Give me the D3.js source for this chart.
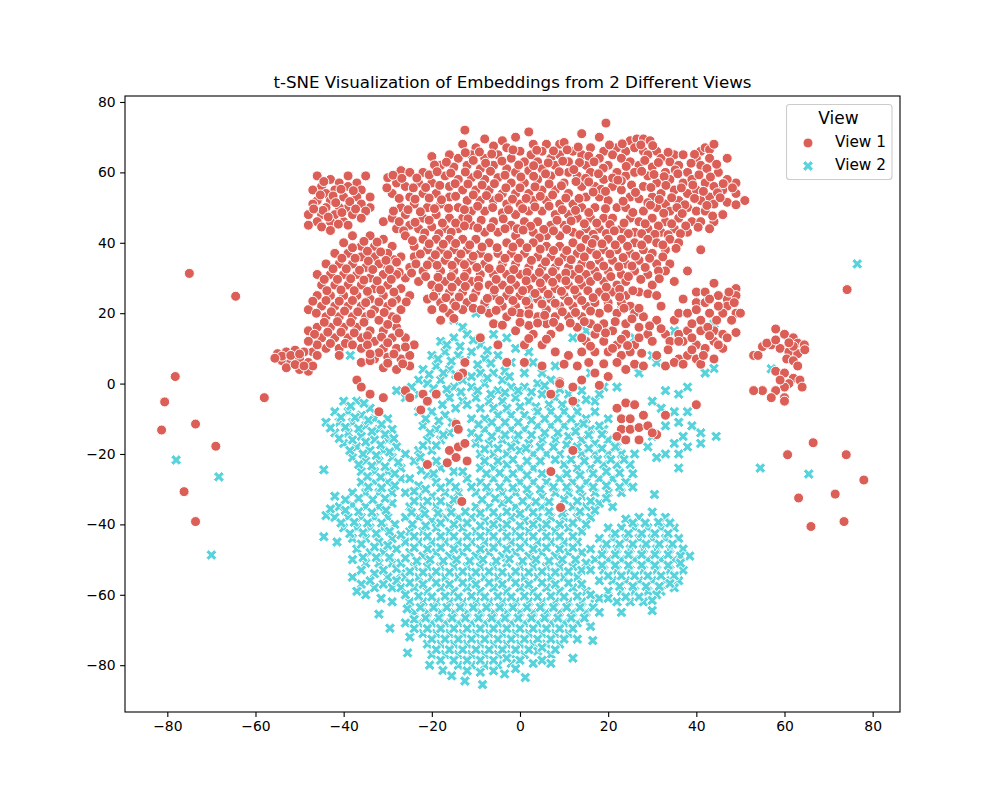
<!DOCTYPE html>
<html>
<head>
<meta charset="utf-8">
<script src="https://cdn.jsdelivr.net/npm/d3@7"></script>
<style>
  body { margin: 0; background: #fff; }
  text { font-family: "DejaVu Sans", sans-serif; fill: #000; }
</style>
</head>
<body>
<svg width="1000" height="800"></svg>
<script>
// Points, [x, y] in t-SNE units
const view1Outliers = [[-75,31.3],[-64.5,24.8],[-58,-4],[-81.3,-13.2],[-80.6,-5.2],[-78.2,2],[-73.6,-11.5],[-69,-17.8],[-76.2,-30.7],[-73.6,-39.2],[74.2,26.7],[60.7,-20.2],[66.5,-16.8],[74,-20.2],[78,-27.4],[71.5,-31.4],[63.2,-32.5],[66,-40.6],[73.5,-39.2],[41,38],[38,32],[54,8]];

const view1UpperLeft = [[-46,59],[-43,58],[-39,59],[-37,57],[-35,59],[-41,57],[-45,56],[-42,55],[-39,56],[-36,55],[-34,53],[-44,54],[-47,55],[-40,53],[-37,53],[-43,52],[-46,52],[-34,50],[-39,50],[-36,51],[-41,50],[-44,50],[-47,51],[-48,48],[-45,48],[-42,48],[-38,48],[-35,49],[-40,46],[-43,46],[-36,47],[-46,46],[-48,45],[-45,44.5],[-43,43.5],[-39,45],[-44.5,57.4],[-40.6,55.2],[-37.8,54.8],[-42.4,53.3],[-45.3,53.6],[-38.6,51.7],[-41.8,51.4],[-44.7,49.2],[-40.4,48.6],[-37.3,49.6],[-43.5,47.3],[-46.8,49.6],[-41.2,45.3]];

const view1Top = [[-12.5,72],[2,71.5],[19.5,74],[14,71],[-8,69.5],[-4,69],[-1,70],[3,68],[6,68],[9,68],[10,68.5],[18,70],[25,69],[26.5,69.5],[28,69.5],[29.5,69],[-13,68],[-10,67],[-6,67.5],[-3,67],[0,66],[2.5,65],[5,66],[7,64],[12,66],[16,67],[19,66],[22,67],[24,66],[26,67],[28,66],[31,66],[35,65],[41,66],[42,67],[43,66.5],[44,68],[-20,64.5],[-16,65],[-14,64],[-11,65],[-8,64],[-5,65],[-2,64],[1,63],[4,63],[9,65],[11,63],[14,65],[18,64],[21,65],[23,64],[25,63],[29,65],[32,64],[34,63],[37,65],[40,64],[43,64],[47,64],[-18,62],[-15,61.5],[-12,62],[-9,61],[-6,62],[-3,61],[-1,60],[2,60.5],[5,61],[8,62],[11,60],[15,62],[20,62],[22,60],[27,62],[30,61.5],[33,60],[36,62],[38,60],[41,62],[45,60],[49,57],[-30,58.5],[-27,60.5],[-25,60],[-22,60],[-17,59],[-14,58],[-11,58.5],[-8,58],[-5,58.5],[-2,57],[1,57],[4,58],[7,59],[10,57],[13,59],[16,60],[19,58],[24,59],[26,60],[29,59],[31,57],[34,58],[37,57],[39,58],[42,57],[44,56],[47,58],[-28,57],[-26,56],[-23,57],[-20,57],[-16,56],[-13,55],[-10,55],[-7,55],[-4,54],[-1,54],[2,54],[5,55],[8,55],[11,54],[14,56],[17,56],[21,56],[23,55],[28,56],[32,54],[35,55],[38,54],[40,55],[43,53],[46,55],[49,54],[51,52],[-29,54],[-25,53],[-22,54],[-19,54],[-16,53],[-12,52],[-9,52],[-6,52],[-3,51],[0,51],[3,52],[6,52],[9,51],[12,51],[15,53],[18,53],[20,52],[25,53],[27,52.5],[30,53],[33,51],[36,52],[41,52],[44,51],[47,51.5],[-27,50],[-24,51],[-21,50],[-18,51],[-14,50],[-11,49],[-8,49],[-4,48.5],[-1,48],[2,49],[5,49],[8,48],[11,48],[14,50],[17,50],[22,50],[24,50],[28,49],[31,50],[34,49],[38,50],[40,49],[42,49],[46,48],[-31,46],[-29,47],[-26,48],[-22,47],[-19,48],[-16,47],[-13,47],[-6,46],[-2,45],[1,46],[4,46],[7,45],[10,45],[13,47],[16,47],[19,47],[21,47],[25,47],[27,46],[30,47],[33,46],[36,47],[39,46],[41,46],[44,46],[-28,44],[-25,45],[-23,44],[-20,44.5],[-17,44],[-14,44],[-11,45],[-8,43],[-5,43],[-1,42],[3,43],[6,42],[9,42],[12,43],[15,44],[18,44],[23,44],[26,43],[29,44],[32,43],[35,44],[38,43],[43,44]];

const view1TopFill = [[-12.4,65.6],[-9.2,65.8],[-6.4,65.2],[-1.6,66.4],[3.8,66.3],[7.6,66.1],[10.7,66.4],[13.2,67.2],[15.6,64.6],[20.3,67.8],[23.2,68.1],[27.4,67.8],[30.1,67.6],[33.6,65.7],[39.6,65.1],[-19.4,62.1],[-16.7,62.9],[-10.6,63.4],[-7.8,62.6],[-4.1,63.2],[-0.3,62.1],[3.1,61.9],[6.4,62.7],[9.7,63.2],[13.5,62.8],[16.8,63],[18.9,61.2],[24.1,61.7],[28.3,63.4],[31.4,62.8],[35.2,60.7],[38.8,62.6],[42.4,61.1],[44.6,62.3],[-28.8,59.2],[-23.4,58.4],[-20.6,59.3],[-18.8,60.2],[-15.7,59.8],[-12.4,60.1],[-9.6,59.4],[-6.7,60.3],[-3.4,59.2],[0.2,58.7],[3.1,58.9],[5.8,59.6],[8.9,60.2],[12.2,60.8],[14.9,58.3],[17.8,59.6],[21,58.4],[23,57.6],[27.6,60.3],[30.4,59.4],[32.7,58.8],[35.8,59.6],[40.6,59.3],[43.2,58.7],[46.1,56.8],[-26.8,58.3],[-24.2,55.6],[-21.4,55.7],[-18.2,56.3],[-14.7,56.8],[-11.8,56.7],[-8.6,56.4],[-5.8,56.8],[-3.2,55.6],[0,55.6],[3.4,55.9],[6.6,56.7],[9.4,56.2],[12.7,57.4],[15.6,57.3],[18.4,55.2],[22.2,57.8],[25.3,56.4],[29.7,55.7],[33.1,56.3],[36.6,55.6],[39.2,56.4],[41.6,54.6],[44.8,54.2],[48.2,55.6],[-30.2,55.6],[-27.4,52.6],[-23.8,52.4],[-20.6,52.7],[-17.8,52.2],[-14.6,53.2],[-10.6,53.6],[-7.6,53.4],[-4.8,52.8],[-1.7,52.4],[1.4,52.6],[4.6,53.2],[7.4,53.6],[10.4,52.7],[13.4,52.6],[16.6,54.4],[19.4,54.6],[23.4,51.8],[26.2,54.3],[29,51.4],[31.6,52.3],[34.4,52.8],[37.4,50.8],[39.6,52.6],[42.4,50.6],[45.4,52.8],[49,50.8],[-28.7,49],[-25.4,49.4],[-22.6,48.8],[-19.4,49.7],[-16.2,49.8],[-12.6,49.4],[-9.6,50.4],[-6.2,50],[-2.6,49.4],[0.6,49.7],[3.4,50.2],[6.6,50.4],[9.6,49.4],[12.6,49.2],[15.6,48.6],[19.4,49.7],[25.6,48.6],[29.6,50.7],[32.6,48.4],[35.6,50],[36.8,48.3],[43.7,47.6],[-27.4,46],[-23.8,45.8],[-20.6,46.4],[-17.6,45.6],[-14.6,45.6],[-11.8,46.8],[-8.8,46.4],[-3.8,46.8],[-0.6,44],[2.4,44.7],[5.4,43.8],[8.4,46.4],[11.6,46.2],[14.6,45.4],[17.4,45.6],[20.4,45.2],[23.6,45.6],[28.4,45.4],[31.4,44.8],[34.4,45.4],[37.6,44.8],[40.4,44.4],[-26.4,43.4],[-21.6,42.8],[-18.4,42.6],[-15.6,43],[-12.6,44.8],[-9.6,44.2],[-6.6,44.3],[-3.4,44],[0.7,43.6],[4.4,41.4],[7.6,43.4],[10.6,43.8],[13.6,42.3],[16.6,42.4],[19.6,42.6],[21.4,43.4],[24.6,42.6],[27.6,42.6],[30.6,42.4],[33.6,42.3],[36.4,42.6]];

const view1Middle = [[-26,42],[-22,41],[-19,41],[-16,41],[-13,41],[-10,41],[-7,40],[-3,40],[0,40],[3,40],[6,39],[9,39],[12,40],[15,41],[17,41],[20,41],[23,41],[26,40],[29,41],[31,40],[34,41],[36,40],[-29,39],[-24,39],[-21,38],[-18,38],[-15,38],[-12,38],[-9,37],[-5,37],[-2,37],[1,37],[4,36],[7,36],[10,36],[13,37],[16,38],[19,38],[22,38],[25,37],[28,38],[30,37],[33,38],[-27,36],[-24,36],[-20,35],[-17,35],[-14,35],[-11,35],[-8,34],[-4,34],[-1,34],[2,33],[5,33],[8,33],[11,33],[14,34],[18,35],[21,35],[24,34],[27,35],[31,34],[34,34],[-30,33],[-25,33],[-22,32],[-18,32],[-15,32],[-12,32],[-9,31],[-6,31],[-3,31],[0,31],[3,30],[6,30],[9,30],[12,31],[15,31],[17,32],[20,32],[23,31],[26,32],[29,31],[33,32],[-26,30],[-23,29],[-20,28],[-17,29],[-14,29],[-11,29],[-7,28],[-4,28],[-1,28],[2,27],[5,27],[8,27],[11,28],[14,28],[16,29],[19,29],[22,28],[24,29],[30,28],[35,29],[-19,26],[-16,26],[-13,26],[-10,26],[-6,25],[-3,25],[0,25],[4,24],[7,24],[10,25],[13,25],[18,26],[21,26],[24,25],[27,26],[29,25.5],[31,25],[-21,24],[-18,23],[-15,23],[-12,23],[-8,23],[-4,22],[-1,22],[2,22],[6,21],[9,22],[12,22],[15,22],[17,23],[20,23],[23,23],[25,22],[32,22],[-20,21],[-16,20],[-13,21],[-7,20],[-3,19],[0,20],[4,19],[8,19],[11,19],[14,19],[18,20],[22,20],[26,20],[28,19],[31,18],[35,18],[-18,18],[-15,18.5],[-6,17],[2,16.5],[6,17],[9,16],[16,17],[19,17],[24,17],[27,16],[29,14],[-1,15],[3,14],[7,14],[13,16],[17,14],[21,15],[24,14],[33,14],[-9,13],[-5,11],[1,11],[5,11],[15,12],[19,12],[22,11],[26,11],[30,12],[34,12],[37,12],[8,9],[11,8],[14,9],[17,9],[20,9],[23,8],[25,9],[31,8],[36,7],[-12.5,6],[-13,3],[-14,2],[-3,6],[1,6],[5,5],[13,5],[22,6],[26,5.5],[28,5],[33,5],[17,3],[20,2],[14,1],[9,0.5],[12,-1],[18,-0.5]];

const view1MiddleFill = [[-24.4,40.6],[-20.6,39.7],[-17.4,39.6],[-14.6,39.8],[-11.4,39.4],[-8.6,38.8],[-5.2,38.6],[-1.6,38.8],[1.6,38.6],[4.6,38.2],[7.6,37.8],[10.6,37.8],[13.8,38.6],[16.4,39.8],[18.6,39.7],[21.6,39.4],[24.4,39],[27.6,39.4],[32.4,39.4],[35.4,38.4],[-22.6,36.8],[-19.2,36.6],[-16.4,36.6],[-13.4,36.8],[-10.6,36.2],[-7.2,35.8],[-3.4,35.6],[-0.4,35.6],[2.6,35],[5.8,34.6],[8.8,34.6],[11.6,35.2],[14.6,36],[17.4,36.6],[20.4,36.8],[23.4,35.8],[26.2,36.2],[29.4,35.6],[32.4,36],[-28.6,35.2],[-23.6,34],[-21,33.7],[-18.8,33.6],[-15.4,33.6],[-12.6,33.8],[-9.8,33],[-7,32.7],[-4.4,32.6],[-1.4,32.4],[1.6,31.6],[4.4,31.6],[7.4,31.8],[10.4,31.4],[13.4,32.6],[16,33.6],[19,33.4],[22.4,33.2],[25.4,33.4],[28.4,33],[31.4,32],[-27.4,31.6],[-24.6,31.4],[-21.4,30.4],[-18.6,30.2],[-15.6,30.4],[-12.6,30.4],[-9.4,29.4],[-5.4,29.6],[-2,29.6],[1.4,29.2],[4.6,28.6],[7.4,28.8],[10.4,29.2],[13.4,29.6],[17.6,30.4],[20.6,30.4],[24.6,30.4],[27.4,29.6],[31.6,29.8],[-18.4,27.2],[-15.4,27.4],[-12.4,27.6],[-9.4,27.6],[-5.8,26.6],[-2.4,26.6],[0.6,26.4],[3.4,25.6],[6.4,25.4],[9.4,26.2],[12.4,26.6],[15.4,26.4],[19.6,27.4],[22.6,26.8],[25.6,26.4],[-19.6,24.8],[-16.8,24.4],[-13.8,24.6],[-10.6,24.4],[-7.4,24.2],[-4.6,23.6],[-1.6,23.6],[1.4,23.4],[5,22.6],[8,22.8],[11,23.4],[14,23.6],[16.6,24.4],[19.4,24.6],[22.6,24.6],[-17.4,21.4],[-14.6,22],[-10.6,21.4],[-8.8,21],[-5.4,20.8],[-1.8,20.4],[2,19.8],[5.6,19.4],[9.6,20.4],[12.6,20.2],[16,20.6],[20,21.4],[23.6,21.4],[27,21.4],[-4,16.6],[0,17.4],[4,17.2],[7.6,17.4],[11.4,17.2],[14.6,17.6],[17.6,15.8],[21.6,17.6],[25.4,18.4],[29.4,16.4],[2,12.8],[6,12.6],[14,13],[19.4,14.4],[23,12.6],[27,13],[32,15.6],[36,14],[16,10.6],[21,10],[24.4,10.8],[27.6,8.6],[33.6,9.6],[10,5.5],[15.6,6],[19,5.6],[24,4],[35,6]];

const view1LowerLeft = [[-34,42],[-31,41],[-38,42],[-40,40],[-36,39],[-33,39],[-30,37],[-42,37],[-39,37],[-36,36],[-33,36],[-28,34.5],[-44,34],[-41,34],[-38,34],[-35,33],[-32,34],[-46,31],[-43,31],[-40,31],[-37,31],[-34,30],[-31,31],[-28,31],[-45,28],[-42,28],[-39,28],[-36,28],[-33,27],[-30,28],[-27,27],[-46,25],[-43,25],[-40,25],[-37,25],[-34,24],[-31,25],[-28,24],[-25,25],[-48,21],[-45,22],[-42,22],[-39,22],[-36,22],[-33,21],[-30,22],[-27,21],[-44,19],[-41,19],[-38,19],[-35,19],[-32,18],[-29,19],[-48,15],[-46,16],[-43,16],[-40,16],[-37,16],[-34,15],[-31,15],[-28,16],[-45,13],[-42,13],[-39,13],[-36,13],[-33,12],[-29,13],[-26,13],[-44,10],[-41,10],[-36,10],[-31,10],[-28,10],[-24,11],[-47,9],[-33,7],[-30,7.5],[-27,7],[-25,8],[-36,6],[-34,6.5],[-31,4.5],[-28,4],[-25,5],[-41,8],[-35.4,40.4],[-32.4,40.2],[-38,38.6],[-34.6,37.6],[-31.6,37.4],[-40.4,35.6],[-37.4,35.6],[-34.4,34.8],[-30.4,35],[-42.4,32.6],[-39.4,32.6],[-36.4,32.2],[-33.4,32.4],[-29.6,32.4],[-44.4,29.6],[-41.4,29.6],[-38.4,29.8],[-35.4,29.4],[-32.4,29.2],[-29.2,29.6],[-43.8,26.4],[-40.6,26.6],[-37.6,26.4],[-34.6,26.2],[-31.6,26.6],[-28.6,26],[-47,23.4],[-44,23.6],[-41,23.4],[-38,23.6],[-35,23],[-32,23.2],[-29,23],[-25.8,23.2],[-46.2,20],[-42.8,20.4],[-39.8,20.6],[-36.8,20.4],[-33.8,19.8],[-30.8,20.2],[-28,18.4],[-44.4,17.4],[-41.4,17.6],[-38.4,17.4],[-35.4,17.4],[-30,16.8],[-46.6,14],[-43.6,14.6],[-40.6,14.6],[-37.6,14.4],[-34.6,13.6],[-31.4,13.2],[-27.4,14.4],[-43,11.4],[-39.6,11.4],[-38,11],[-34.6,11],[-30,11.6],[-26,10.4],[-32,8.8],[-28.6,8.4],[-34,8.4],[-26.6,5.6],[-30,5.8],[-46,11],[-48,12]];

const view1LeftTail = [[-55,8.5],[-53,9],[-51,9.5],[-49,9],[-54,6.5],[-52,6],[-50,7],[-48,6],[-53,4.5],[-50,4],[-48,3.5],[-47,5],[-46,8],[-54,7.8],[-52,8],[-50,8.4],[-51,5.4],[-49,5],[-55.6,7.2]];

const view1Right = [[37,24],[40,26],[42,26],[44,28.5],[47,24],[49,27],[49,25],[40,23],[42,23],[45,25],[47,22],[49,20],[50,20],[36,20],[38,20],[40,21],[43,20],[46,20],[48,18],[41,18],[44,15],[46,14],[47,13],[49,14.5],[38,15],[41,15],[36,12],[40,11],[42,10],[44,12],[46,10],[38,8],[40,7],[37,5.5],[41,5.5],[44,7],[40,-6],[53,8],[55,10.5],[57,11],[58,15.5],[60,14],[62,13],[63,11.5],[64.5,11],[56,11.5],[59,10],[61,9],[63,8.5],[60.5,7],[62,6.5],[63,5],[58,3.5],[60,3],[62,1.5],[61,0],[60,-1],[58,-2],[55,-2],[53,-2],[57,-4],[60,-4],[60,-5],[63.5,1],[64,-1],[59,1],[43,24],[45,22],[47.4,26],[48.6,23],[44.6,18],[39,17],[42.6,16],[39,13],[43,13.6],[45,11],[41.6,8],[39,9.6],[62,10.6],[64.6,9.6],[58,12.4],[61,11.6]];

const view1Lower = [[-37,1],[-36,-1],[-34,-3],[-31,-4],[-32,-8],[-26,-2],[-25,-4],[-22,-3],[-19,-3],[-21,-5],[-22.5,-7.5],[-14.5,-11.5],[-14,-13],[-16,-19],[-14,-18],[-12.5,-17],[-14.5,-21],[-16.5,-22.5],[-21,-23],[-12,-22],[-13.2,-33.5],[7,-25],[12,-19],[9.2,-35.2],[9,0],[7,-3],[12,-5],[22,-7],[24,-5.5],[26,-6],[23,-10],[25,-10],[28,-9],[23,-13],[25,-13],[22,-15],[27,-12.5],[29,-12],[31,-14.5],[24,-16],[27,-16],[33,-9],[30,-14]];

const view2Outliers = [[76.5,34],[54.5,-24],[65.5,-25.7],[-78,-21.7],[-68.3,-26.5],[-70,-48.7],[-38.5,8],[57,4.2],[44,4.3],[44,17],[42,3],[38,-1],[35,15],[36,-3]];

const view2Upper = [[-15,18],[-13,16],[-10,20],[-8,21],[-18,12],[-15,13],[-12,14],[-9,11],[-6,14],[-3,13],[-1,10],[2,9],[-20,8],[-17,9],[-14,8],[-11,9],[-8,7],[-5,8],[-2,6],[1,3],[3,6],[5,3],[8,5],[-22,4],[-19,5],[-16,4],[-13,1],[-9,3],[-6,3],[-4,1],[-23,1],[-21,0],[-18,1],[-15,-1],[-11,-1],[-8,0],[-5,-2],[-2,-1],[1,-1],[4,0],[7,1],[-28,-2],[-26,-4],[-23,-3],[-19,-3],[-16,-4],[-13,-5],[-10,-4],[-7,-5],[-4,-5],[-1,-4],[2,-5],[5,-3],[8,-4],[11,-3],[14,-2],[17,-5],[19,-1],[16,3],[12,13],[15,15],[6,25],[3,24],[22,-1],[27,3],[31,6],[30,8],[26,13],[23,21],[33,-2],[30,-5],[32,-7],[35,-8],[38,-8],[36,-11],[33,-12],[39,-12],[41,-14],[44.5,-15],[37,-15],[35,-17],[38,-18],[41,-17],[36,-20],[33,-20],[36,-24],[30,-15],[29,-18],[31,-21],[26,-20],[17,-8],[20,-10],[22,-18],[19,-13],[-12,-6],[-9,-7],[-16.6,11],[-13.6,10.6],[-10.6,12.4],[-7.4,9.4],[-18.6,7],[-15.6,6.4],[-12.4,6.6],[-9.6,5.4],[-6.6,5.8],[-3.4,3.6],[-20.6,2.6],[-17.4,3],[-14.6,2.6],[-11,2],[-7.4,1.6],[-2.4,2],[-24.6,-1],[-19.6,-1.4],[-16.6,-1.6],[-13.4,-2.4],[-9.6,-2],[-6.6,-3],[-3.4,-2.6],[-0.4,-2],[2.6,-2.4],[5.6,-0.6],[9,-1.6],[-21,-5],[-17.6,-6],[-14.6,-7],[-6,-7],[-3,-7],[0,-6.6],[3.6,-6.6],[6.6,-6],[9.6,-6],[12.6,-5.6],[15,-4.6],[18,-3]];

const view2Left = [[-40,-5],[-37,-5],[-34,-7],[-42,-8],[-39,-8],[-36,-9],[-33,-10],[-30,-10],[-44,-11],[-41,-11],[-38,-11],[-35,-12],[-32,-13],[-29,-13],[-42,-14],[-39,-14],[-36,-15],[-33,-16],[-30,-16],[-40,-17],[-37,-18],[-34,-19],[-31,-19],[-28,-18],[-38,-21],[-35,-22],[-32,-22],[-29,-21],[-26,-20],[-44.5,-24.5],[-36,-25],[-33,-25],[-30,-25],[-27,-24],[-36,-28],[-33,-28],[-30,-28],[-27,-27],[-38,-31],[-35,-31],[-32,-31],[-29,-31],[-42,-32],[-44,-37.5],[-41,-35],[-38,-34.5],[-35,-35],[-32,-35],[-29,-34],[-42,-38],[-39,-38],[-36,-38],[-33,-38],[-30,-38],[-44.5,-43.5],[-40,-41],[-37,-41],[-34,-41],[-31,-41],[-41.5,-45],[-38,-44],[-35,-44],[-32,-45],[-29,-44],[-37,-47],[-34,-48],[-31,-48],[-28,-47],[-38,-50],[-35,-51],[-32,-51],[-29,-51],[-38,-55],[-36,-57],[-33,-54],[-30,-55],[-27,-54],[-37,-59],[-35,-60],[-33,-58],[-29,-58],[-31.5,-61],[-32,-65.5],[-29,-62],[-29.5,-69.5],[-26,-68],[-38.4,-6.4],[-35.4,-5.6],[-40.6,-9.6],[-37.4,-9.6],[-34.4,-10.4],[-31.4,-11.6],[-43,-12.6],[-39.6,-12.4],[-36.6,-12.8],[-33.6,-13.6],[-30.6,-14.4],[-41,-15.6],[-38,-16],[-35,-16.6],[-31.6,-17.4],[-28.6,-15.6],[-38.6,-19],[-35.6,-20],[-32.6,-20.4],[-29.6,-19.4],[-36.6,-23],[-33.6,-23.4],[-30.6,-23.6],[-27.6,-22.4],[-34.6,-26.4],[-31.6,-26.6],[-28.4,-25.6],[-34.4,-29.4],[-31.4,-29.6],[-28.4,-29],[-36.6,-32.6],[-33.4,-33],[-30.6,-32.6],[-39.6,-33],[-43,-35.6],[-39.6,-36],[-36.6,-36.4],[-33.6,-36.6],[-30.4,-36],[-40.6,-39.6],[-37.6,-39.4],[-34.6,-39.6],[-31.4,-39.6],[-28.4,-40],[-38.6,-42.6],[-35.6,-42.4],[-32.6,-42.6],[-29.6,-42],[-36,-45.6],[-33,-46.4],[-30,-46],[-35.6,-49.4],[-32.6,-49.4],[-29.6,-49.4],[-36,-53],[-31,-53],[-28,-52.6],[-34,-56],[-31,-57],[-28,-56]];

const view2Center = [[-23,-8],[-20,-8],[-17,-9],[-11,-10],[-8,-10],[-5,-9],[-2,-9],[1,-9],[4,-8],[7,-8],[10,-8],[13,-8],[15,-10],[-22,-12],[-19,-13],[-16,-14],[-11,-14],[-8,-13],[-5,-13],[-2,-13],[1,-13],[4,-12],[7,-12],[10,-12],[13,-12],[16,-13],[18,-12],[-21,-16],[-18,-16],[-10,-17],[-7,-17],[-4,-16],[-1,-16],[2,-17],[5,-16],[8,-16],[11,-15],[14,-16],[17,-17],[20,-16],[-23,-19],[-20,-19],[-9,-20],[-6,-20],[-3,-20],[0,-19],[3,-20],[6,-20],[9,-20],[14,-20],[17,-20],[20,-20],[23,-20],[-24,-22],[-21,-26],[-18,-24],[-15,-25],[-9,-24],[-6,-24],[-3,-23],[0,-24],[3,-24],[10,-23],[13,-24],[16,-24],[19,-23],[22,-23],[25,-23],[-25,-27],[-23,-29],[-19,-28],[-16,-28],[-12,-27],[-9,-28],[-6,-27],[-3,-27],[0,-28],[3,-28],[6,-28],[9,-27],[12,-28],[15,-28],[18,-27],[21,-27],[24,-28],[-26,-31],[-23,-32],[-20,-32],[-17,-31],[-14,-31],[-10,-31],[-7,-31],[-4,-31],[-1,-31],[2,-32],[5,-32],[8,-31],[11,-31],[14,-32],[17,-31],[20,-31],[23,-31],[-25,-35],[-22,-35],[-19,-35],[-16,-35],[-10,-35],[-7,-35],[-4,-34],[-1,-35],[2,-35],[5,-35],[12,-35],[15,-35],[18,-34],[21,-35],[-26,-38],[-23,-38],[-20,-39],[-17,-38],[-14,-38],[-11,-38],[-8,-39],[-5,-38],[-2,-38],[1,-39],[4,-38],[7,-38],[10,-38],[13,-38],[16,-38],[-25,-42],[-22,-42],[-19,-41],[-16,-42],[-13,-41],[-10,-42],[-7,-42],[-4,-41],[-1,-42],[2,-42],[5,-41],[8,-42],[11,-41],[14,-42],[-26,-45],[-23,-45],[-20,-45],[-17,-45],[-14,-45],[-11,-45],[-8,-45],[-5,-45],[-2,-45],[1,-45],[4,-45],[7,-45],[10,-45],[13,-45],[-25,-48],[-22,-49],[-19,-48],[-16,-49],[-13,-48],[-10,-49],[-7,-48],[-4,-49],[-1,-48],[2,-49],[5,-48],[8,-49],[11,-48],[14,-48],[-27,-51],[-24,-52],[-21,-52],[-18,-52],[-15,-52],[-12,-52],[-9,-52],[-6,-52],[-3,-51],[0,-52],[3,-52],[6,-52],[9,-52],[12,-52],[-26,-55],[-23,-55],[-20,-55],[-17,-55],[-14,-55],[-11,-55],[-8,-55],[-5,-55],[-2,-55],[1,-55],[4,-55],[7,-55],[10,-55],[13,-55],[-27,-58],[-24,-58],[-21,-59],[-18,-58],[-15,-59],[-12,-58],[-9,-59],[-6,-58],[-3,-59],[0,-58],[3,-59],[6,-58],[9,-59],[12,-58],[15,-59],[-25,-62],[-22,-62],[-19,-62],[-16,-62],[-13,-62],[-10,-62],[-7,-62],[-4,-62],[-1,-62],[2,-62],[5,-62],[8,-62],[11,-62],[14,-62],[17,-61],[-24,-65],[-21,-65],[-18,-65],[-15,-65],[-12,-65],[-9,-65],[-6,-65],[-3,-65],[0,-65],[3,-65],[6,-65],[9,-65],[12,-65],[15,-65],[-23,-68],[-20,-68],[-17,-68],[-14,-68],[-11,-68],[-8,-68],[-5,-68],[-2,-68],[1,-68],[4,-68],[7,-68],[10,-68],[13,-68],[16,-69],[-25,-72],[-22,-71],[-19,-71],[-16,-71],[-13,-71],[-10,-71],[-7,-71],[-4,-71],[-1,-71],[2,-71],[5,-71],[8,-71],[11,-71],[-21,-74],[-18,-74],[-15,-74],[-12,-74],[-9,-74],[-6,-74],[-3,-74],[0,-74],[3,-74],[6,-74],[9,-74],[16.5,-73],[-25.5,-76.5],[-20,-77],[-17,-77],[-14,-77],[-11,-77],[-8,-77],[-5,-77],[-2,-77],[1,-77],[4,-76],[7,-77],[12,-78],[-20.5,-80],[-17.5,-81.5],[-14,-80],[-11,-80],[-8,-80],[-5,-80],[-2,-79.5],[3,-79.5],[7,-79.5],[-15.5,-83],[-12.5,-84.5],[-8.5,-85.5],[-3.5,-82.5],[1.2,-83.5]];

const view2CenterFill = [[-21.4,-10],[-18.4,-10.6],[-15.4,-11],[-9.4,-11.6],[-6.4,-11],[-3.4,-11],[-0.4,-11],[2.6,-10.4],[5.6,-10],[8.6,-10],[11.6,-10],[14.4,-11.4],[-20.4,-14],[-17.4,-14.6],[-9.4,-15.4],[-6.4,-15],[-3.4,-14.6],[-0.4,-14.6],[2.6,-14.6],[5.6,-14],[8.6,-14],[12.6,-13.6],[15.6,-14.6],[18.6,-14.4],[-22,-17.6],[-19,-17.6],[-8,-18.6],[-5,-18.4],[-2,-18],[1.4,-18.4],[4.6,-18],[7.6,-18],[10.6,-17.4],[13,-18],[15.6,-18.4],[18.6,-18.4],[21.6,-18],[-22.6,-21],[-19,-22],[-8,-22],[-5,-22],[-1.6,-21.6],[1.6,-22],[4.6,-22],[8,-21.6],[11.6,-21.6],[14.6,-22],[17.6,-21.6],[20.6,-21.6],[23.6,-21.6],[-22.4,-24.6],[-19.6,-25.6],[-13,-25],[-7.6,-25.6],[-4.6,-25.4],[-1.6,-25.6],[1.6,-26],[5,-25.6],[10.6,-25.6],[13.6,-26],[16.6,-25.6],[19.6,-25],[22.6,-25.4],[25.6,-25.6],[-24,-30.6],[-21.4,-30],[-18,-29.6],[-14.6,-29.4],[-11,-29.4],[-7.6,-29.4],[-4.6,-29.4],[-1.6,-29.6],[1.6,-30],[4.6,-30],[7.6,-29.4],[10.6,-29.4],[13.6,-30],[16.6,-29.4],[19.6,-29],[22.6,-29.4],[25.6,-29.4],[-24,-33.4],[-21,-33.4],[-18,-33.4],[-15,-33],[-8.6,-33],[-5.6,-32.6],[-2.6,-33],[0.6,-33.4],[3.6,-33.6],[6.6,-33.6],[10,-33],[13,-33.4],[16,-33.4],[19.6,-32.6],[-24.6,-36.6],[-21.6,-37],[-18.6,-36.8],[-15.6,-36.6],[-12.4,-36.4],[-9,-36.8],[-6,-36.6],[-3,-36.4],[0,-37],[3,-36.6],[6.6,-36.4],[9.6,-36.8],[13.6,-36.4],[17,-36],[-24.4,-40],[-21.4,-40.4],[-18,-39.6],[-15,-40],[-12,-39.6],[-9,-40.4],[-6,-40],[-3,-40],[0,-40.4],[3,-40],[6,-40],[9,-40],[12,-39.6],[15,-40],[-27,-43],[-24,-43.4],[-21,-43.4],[-18,-43.4],[-15,-43.4],[-12,-43.4],[-9,-43.4],[-6,-43.4],[-3,-43.4],[0,-43.4],[3,-43.4],[6,-43.4],[9,-43.4],[12,-43.4],[-24,-46.6],[-21,-47],[-18,-46.6],[-15,-47],[-12,-46.6],[-9,-47],[-6,-46.6],[-3,-47],[0,-46.6],[3,-47],[6,-46.6],[9,-47],[12,-46.6],[-26,-49.6],[-23.4,-50.4],[-20.4,-50],[-17.4,-50.4],[-14.4,-50],[-11.4,-50.4],[-8.4,-50],[-5.4,-50.4],[-2.4,-49.8],[0.6,-50.4],[3.6,-50],[6.6,-50.4],[9.6,-50],[12.6,-50],[15,-51],[-25,-53.4],[-22,-53.6],[-19,-53.4],[-16,-53.6],[-13,-53.4],[-10,-53.6],[-7,-53.4],[-4,-53.6],[-1,-53.4],[2,-53.6],[5,-53.4],[8,-53.6],[11,-53.4],[14,-53],[-25,-56.6],[-22,-57],[-19,-56.6],[-16,-57],[-13,-56.6],[-10,-57],[-7,-56.6],[-4,-57],[-1,-56.6],[2,-57],[5,-56.6],[8,-57],[11,-56.6],[14,-57],[-26,-60],[-23,-60.4],[-20,-60.6],[-17,-60.4],[-14,-60.6],[-11,-60.4],[-8,-60.6],[-5,-60.4],[-2,-60.6],[1,-60.4],[4,-60.6],[7,-60.4],[10,-60.6],[13,-60.4],[16,-60],[-25.6,-64],[-22.6,-63.6],[-19.6,-63.6],[-16.6,-63.6],[-13.6,-63.6],[-10.6,-63.6],[-7.6,-63.6],[-4.6,-63.6],[-1.6,-63.6],[1.6,-63.6],[4.6,-63.6],[7.6,-63.6],[10.6,-63.6],[13.6,-63.6],[16.6,-63.6],[-24,-67],[-21.4,-66.6],[-18.4,-66.6],[-15.4,-66.6],[-12.4,-66.6],[-9.4,-66.6],[-6.4,-66.6],[-3.4,-66.6],[-0.4,-66.6],[2.6,-66.6],[5.6,-66.6],[8.6,-66.6],[11.6,-66.6],[14.6,-66.6],[-24,-69.6],[-21,-69.6],[-18,-69.6],[-15,-69.6],[-12,-69.6],[-9,-69.6],[-6,-69.6],[-3,-69.6],[0,-69.6],[3,-69.6],[6,-69.6],[9,-69.6],[12,-69.6],[-20,-72.6],[-17,-72.6],[-14,-72.6],[-11,-72.6],[-8,-72.6],[-5,-72.6],[-2,-72.6],[1,-72.6],[4,-72.6],[7,-72.6],[10,-72.6],[13,-72.6],[-19,-75.6],[-16,-75.6],[-13,-75.6],[-10,-75.6],[-7,-75.6],[-4,-75.6],[-1,-75.6],[2,-75.6],[5,-75],[8,-75.6],[-18,-78.6],[-15,-78.6],[-12,-78.6],[-9,-78.6],[-6,-78.6],[-3,-78],[0,-78.6],[5,-78.6],[-12,-81.6],[-9,-82],[-6,-81.6],[-1,-81]];

const view2RightCluster = [[24,-38.5],[27,-38],[30,-36.5],[33,-38],[20,-41],[23,-41],[26,-41],[29,-41],[32,-41],[35,-41],[18,-44],[21,-44],[24,-44],[27,-44],[30,-44],[33,-44],[36,-44],[16,-47],[19,-47],[22,-47],[25,-47],[28,-47],[31,-47],[34,-47],[37,-47],[38.5,-49],[17,-50],[20,-50],[23,-50],[26,-50],[29,-50],[32,-50],[35,-50],[16,-53],[19,-53],[22,-53],[25,-53],[28,-53],[31,-53],[34,-53],[37,-53],[18,-56],[21,-56],[24,-56],[27,-56],[30,-56],[33,-56],[36,-56],[20,-59],[23,-59],[26,-59],[29,-59],[32,-59],[35,-58],[18,-61],[22,-62],[25,-62],[28,-62],[31,-60],[23,-65],[18,-65],[30,-64.5],[30.5,-31.5],[25.6,-39.6],[28.4,-39.6],[31.4,-39.4],[34,-39.6],[21.6,-42.6],[24.6,-42.6],[27.6,-42.6],[30.6,-42.6],[33.6,-42.6],[19.6,-45.6],[22.6,-45.6],[25.6,-45.6],[28.6,-45.6],[31.6,-45.6],[34.6,-45.6],[18.6,-48.6],[21.6,-48.6],[24.6,-48.6],[27.6,-48.6],[30.6,-48.6],[33.6,-48.6],[36.4,-49],[18.6,-51.6],[21.6,-51.6],[24.6,-51.6],[27.6,-51.6],[30.6,-51.6],[33.6,-51.6],[36.4,-51],[20,-54.6],[23,-54.6],[26,-54.6],[29,-54.6],[32,-54.6],[35,-54.6],[22.6,-57.6],[25.6,-57.6],[28.6,-57.6],[31.6,-57.6],[34,-56.8],[20,-61],[24,-60.6],[27,-60.6],[30,-61.6]];

const xTicks = [-80, -60, -40, -20, 0, 20, 40, 60, 80];
const yTicks = [80, 60, 40, 20, 0, -20, -40, -60, -80];

const view1Points = [].concat(view1UpperLeft, view1Top, view1TopFill, view1Middle, view1MiddleFill, view1LowerLeft, view1LeftTail, view1Right, view1Lower, view1Outliers);
const view2Points = [].concat(view2Upper, view2Left, view2Center, view2CenterFill, view2RightCluster, view2Outliers);

const RED = "#db5f57";
const CYAN = "#57d3db";

const margin = { left: 125, right: 900, top: 96, bottom: 712 };
const x = d3.scaleLinear().domain([-89.6, 86.2]).range([margin.left, margin.right]);
const y = d3.scaleLinear().domain([-93.3, 81.7]).range([margin.bottom, margin.top]);

const svg = d3.select("svg");

// matplotlib's filled X marker
const xMarker = "M-2.7,-5.4L0,-2.7L2.7,-5.4L5.4,-2.7L2.7,0L5.4,2.7L2.7,5.4L0,2.7L-2.7,5.4L-5.4,2.7L-2.7,0L-5.4,-2.7Z";

// View 2 first, View 1 sits on top
svg.append("g")
  .selectAll("path")
  .data(view2Points)
  .enter()
  .append("path")
  .attr("d", xMarker)
  .attr("transform", (d) => `translate(${x(d[0])},${y(d[1])})`)
  .attr("fill", CYAN)
  .attr("stroke", "#fff")
  .attr("stroke-width", 1);

svg.append("g")
  .selectAll("circle")
  .data(view1Points)
  .enter()
  .append("circle")
  .attr("cx", (d) => x(d[0]))
  .attr("cy", (d) => y(d[1]))
  .attr("r", 5)
  .attr("fill", RED)
  .attr("stroke", "#fff")
  .attr("stroke-width", 1);

// Axes
const xAxis = d3.axisBottom(x).tickValues(xTicks).tickSizeOuter(0).tickSize(4.9).tickPadding(4.5);
const yAxis = d3.axisLeft(y).tickValues(yTicks).tickSizeOuter(0).tickSize(4.9).tickPadding(4.5);

const gx = svg.append("g").attr("transform", `translate(0,${margin.bottom})`).call(xAxis);
const gy = svg.append("g").attr("transform", `translate(${margin.left},0)`).call(yAxis);
gx.select(".domain").remove();
gy.select(".domain").remove();
svg.selectAll(".tick text").style("font-family", '"DejaVu Sans"').style("font-size", "13.9px");
svg.selectAll(".tick line").attr("stroke-width", 1.1);

svg.append("rect")
  .attr("x", margin.left)
  .attr("y", margin.top)
  .attr("width", margin.right - margin.left)
  .attr("height", margin.bottom - margin.top)
  .attr("fill", "none")
  .attr("stroke", "#000")
  .attr("stroke-width", 1.1);

svg.append("text")
  .attr("x", (margin.left + margin.right) / 2)
  .attr("y", 88)
  .attr("text-anchor", "middle")
  .style("font-size", "16.67px")
  .text("t-SNE Visualization of Embeddings from 2 Different Views");

// Legend
const legend = svg.append("g");
legend.append("rect")
  .attr("x", 786.5)
  .attr("y", 104.5)
  .attr("width", 105.5)
  .attr("height", 75)
  .attr("rx", 3)
  .attr("fill", "#fff")
  .attr("fill-opacity", 0.8)
  .attr("stroke", "#ccc")
  .attr("stroke-width", 1.1);
legend.append("text")
  .attr("x", 838.5)
  .attr("y", 124)
  .attr("text-anchor", "middle")
  .style("font-size", "17px")
  .text("View");
legend.append("circle").attr("cx", 808).attr("cy", 143).attr("r", 5).attr("fill", RED).attr("stroke", "#fff");
legend.append("path").attr("d", xMarker).attr("transform", "translate(808,166)").attr("fill", CYAN).attr("stroke", "#fff");
legend.append("text").attr("x", 835).attr("y", 147).style("font-size", "15.3px").text("View 1");
legend.append("text").attr("x", 835).attr("y", 170).style("font-size", "15.3px").text("View 2");
</script>
</body>
</html>
